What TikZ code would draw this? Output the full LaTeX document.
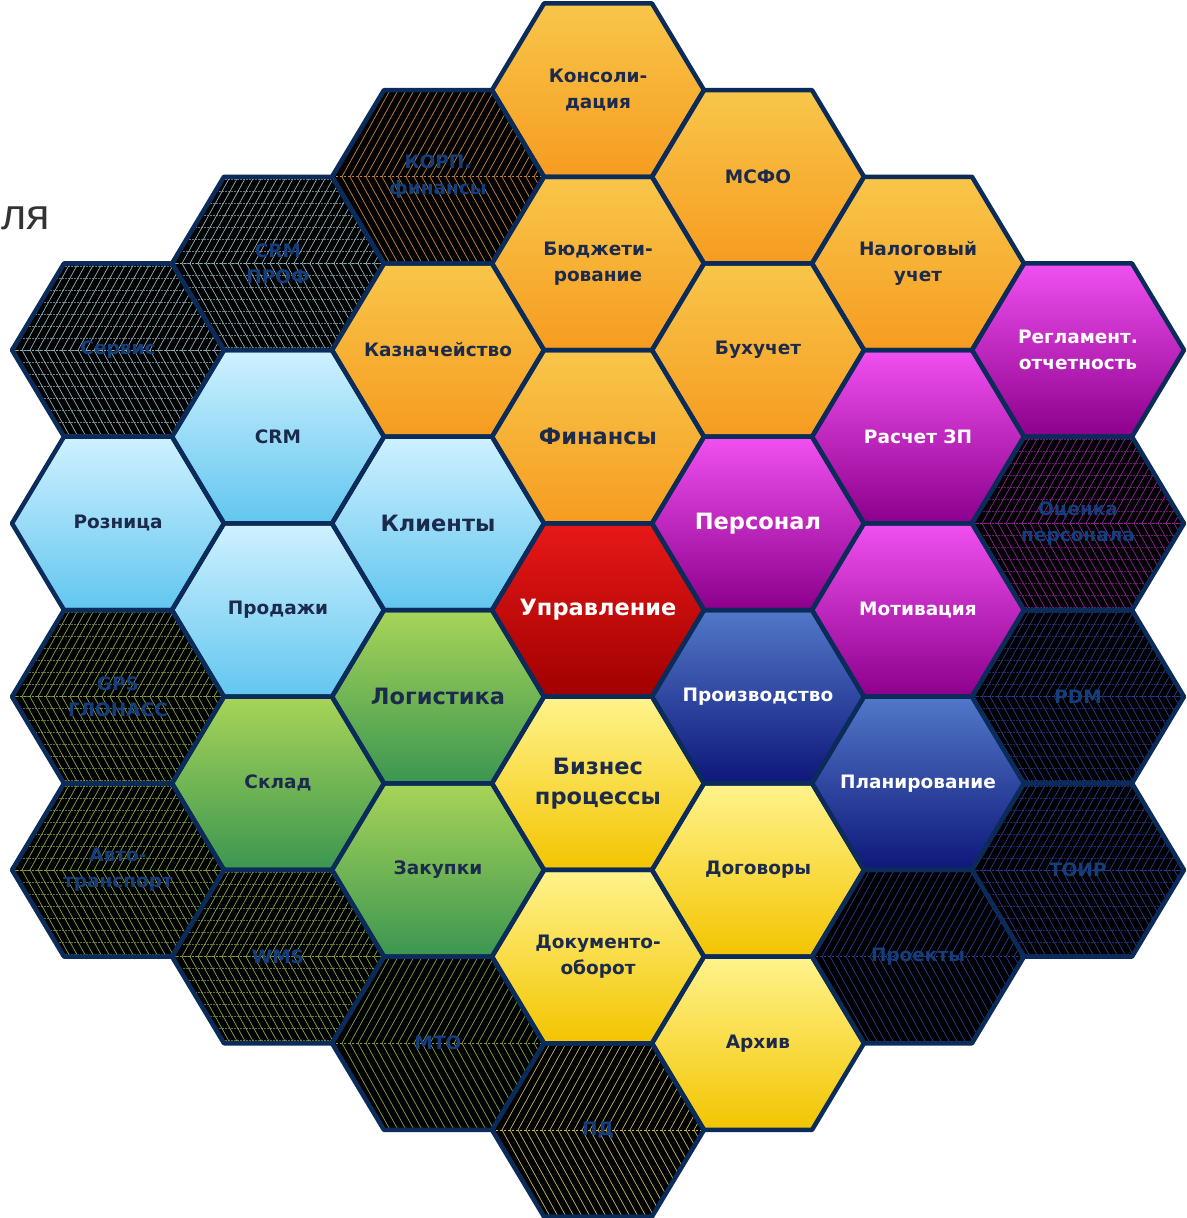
\documentclass[tikz,border=0pt]{standalone}
\usepackage{fontspec}
\setmainfont{DejaVu Sans}
\newfontfamily\lsans{Liberation Sans}
\pgfdeclarelayer{fills}
\pgfdeclarelayer{bg}
\pgfsetlayers{bg,fills,main}
\definecolor{orT}{HTML}{F8C64A}
\definecolor{orB}{HTML}{F69C20}
\definecolor{lbT}{HTML}{CFF1FF}
\definecolor{lbB}{HTML}{62C6EF}
\definecolor{grT}{HTML}{A8D458}
\definecolor{grB}{HTML}{3B9651}
\definecolor{rdT}{HTML}{E81818}
\definecolor{rdB}{HTML}{A00000}
\definecolor{mgT}{HTML}{F050F0}
\definecolor{mgB}{HTML}{8C008C}
\definecolor{blT}{HTML}{5278C8}
\definecolor{blB}{HTML}{0E177A}
\definecolor{ywT}{HTML}{FFF38C}
\definecolor{ywB}{HTML}{F3C400}
\definecolor{navy}{HTML}{1C2A4C}
\definecolor{darktxt}{HTML}{143E7C}
\definecolor{edge}{HTML}{0B2C5A}
\definecolor{hOr}{HTML}{C88638}
\definecolor{hLb}{HTML}{8EB2BA}
\definecolor{hMg}{HTML}{9420A0}
\definecolor{hGr}{HTML}{86A444}
\definecolor{hYw}{HTML}{C8BA58}
\definecolor{hBl}{HTML}{2A3A90}
\tikzset{
  hexline/.style={draw=edge,line width=4.5pt,line join=round},
  lbl/.style={align=center,font=\bfseries\fontsize{18.5}{26}\selectfont,text=navy,inner sep=0pt},
  biglbl/.style={lbl,font=\bfseries\fontsize{22.5}{30}\selectfont},
  wlbl/.style={lbl,text=white},
  wbiglbl/.style={biglbl,text=white},
  dlbl/.style={lbl,text=darktxt},
}
\newcommand\hexp[2]{({#1-106},{#2}) -- ({#1-54},{#2-86.65}) -- ({#1+54},{#2-86.65}) -- ({#1+106},{#2}) -- ({#1+54},{#2+86.65}) -- ({#1-54},{#2+86.65}) -- cycle}
% name, x, y, top color, bottom color, label style, text
\newcommand\colhex[7]{%
  \begin{pgfonlayer}{fills}
    \shade[top color=#4,bottom color=#5] \hexp{#2}{#3};
  \end{pgfonlayer}
  \draw[hexline] \hexp{#2}{#3};
  \node[#6] (#1) at (#2,#3) {#7};
}
% name, x, y, hatch colour, cross (0/1), text
\newcommand\darkhex[6]{%
  \begin{pgfonlayer}{fills}
    \fill[black] \hexp{#2}{#3};
    \begin{scope}
      \clip \hexp{#2}{#3};
      \foreach \i in {-112,-104,...,112}{
        \draw[#4,line width=0.7pt] ({#2+(\i)},{#3}) -- ++(50,-90);
        \draw[#4,line width=0.7pt] ({#2+(\i)},{#3}) -- ++(50,90);
      }
      \draw[#4,line width=0.8pt,dash pattern=on 2pt off 2pt] ({#2-110},{#3}) -- ({#2+110},{#3});
      \ifnum#5=1
        \foreach \j in {-84,-72,...,84}
          \draw[#4,opacity=0.7,line width=0.5pt,dash pattern=on 1.5pt off 1.5pt] ({#2-110},{#3+(\j)}) -- ({#2+110},{#3+(\j)});
      \fi
    \end{scope}
  \end{pgfonlayer}
  \draw[hexline] \hexp{#2}{#3};
  \node[dlbl] (#1) at (#2,#3) {#6};
}
\begin{document}
\begin{tikzpicture}[x=1pt,y=-1pt]
\useasboundingbox (0,0) rectangle (1186,1218);
\begin{pgfonlayer}{bg}
\fill[white] (0,0) rectangle (1186,1218);
\end{pgfonlayer}
\node[font=\lsans\fontsize{43}{43}\selectfont,text=black!80,anchor=base west,inner sep=0pt] (dlya) at (1,229) {ля};
% column 0
\colhex{kons}{598}{90.1}{orT}{orB}{lbl}{Консоли-\\дация}
\colhex{budg}{598}{263.4}{orT}{orB}{lbl}{Бюджети-\\рование}
\colhex{fin}{598}{436.7}{orT}{orB}{biglbl}{Финансы}
\colhex{upr}{598}{610}{rdT}{rdB}{wbiglbl}{Управление}
\colhex{biz}{598}{783.3}{ywT}{ywB}{biglbl}{Бизнес\\процессы}
\colhex{doc}{598}{956.6}{ywT}{ywB}{lbl}{Документо-\\оборот}
\darkhex{pd}{598}{1129.9}{hYw}{0}{ПД}
% column +1
\colhex{msfo}{758}{176.75}{orT}{orB}{lbl}{МСФО}
\colhex{buh}{758}{350.05}{orT}{orB}{lbl}{Бухучет}
\colhex{pers}{758}{523.35}{mgT}{mgB}{wbiglbl}{Персонал}
\colhex{proiz}{758}{696.65}{blT}{blB}{wlbl}{Производство}
\colhex{dog}{758}{869.95}{ywT}{ywB}{lbl}{Договоры}
\colhex{arh}{758}{1043.25}{ywT}{ywB}{lbl}{Архив}
% column +2
\colhex{nal}{918}{263.4}{orT}{orB}{lbl}{Налоговый\\учет}
\colhex{zp}{918}{436.7}{mgT}{mgB}{wlbl}{Расчет ЗП}
\colhex{motiv}{918}{610}{mgT}{mgB}{wlbl}{Мотивация}
\colhex{plan}{918}{783.3}{blT}{blB}{wlbl}{Планирование}
\darkhex{proj}{918}{956.6}{hBl}{0}{Проекты}
% column +3
\colhex{regl}{1078}{350.05}{mgT}{mgB}{wlbl}{Регламент.\\отчетность}
\darkhex{ocen}{1078}{523.35}{hMg}{1}{Оценка\\персонала}
\darkhex{pdm}{1078}{696.65}{hBl}{1}{PDM}
\darkhex{toir}{1078}{869.95}{hBl}{1}{ТОИР}
% column -1
\darkhex{korp}{438}{176.75}{hOr}{0}{КОРП.\\финансы}
\colhex{kazn}{438}{350.05}{orT}{orB}{lbl}{Казначейство}
\colhex{klient}{438}{523.35}{lbT}{lbB}{biglbl}{Клиенты}
\colhex{logist}{438}{696.65}{grT}{grB}{biglbl}{Логистика}
\colhex{zak}{438}{869.95}{grT}{grB}{lbl}{Закупки}
\darkhex{mto}{438}{1043.25}{hGr}{0}{МТО}
% column -2
\darkhex{crmprof}{278}{263.4}{hLb}{1}{CRM\\ПРОФ}
\colhex{crm}{278}{436.7}{lbT}{lbB}{lbl}{CRM}
\colhex{prod}{278}{610}{lbT}{lbB}{lbl}{Продажи}
\colhex{sklad}{278}{783.3}{grT}{grB}{lbl}{Склад}
\darkhex{wms}{278}{956.6}{hGr}{1}{WMS}
% column -3
\darkhex{serv}{118}{350.05}{hLb}{1}{Сервис}
\colhex{rozn}{118}{523.35}{lbT}{lbB}{lbl}{Розница}
\darkhex{gps}{118}{696.65}{hGr}{1}{GPS\\ГЛОНАСС}
\darkhex{avto}{118}{869.95}{hGr}{1}{Авто-\\транспорт}
\end{tikzpicture}
\end{document}
